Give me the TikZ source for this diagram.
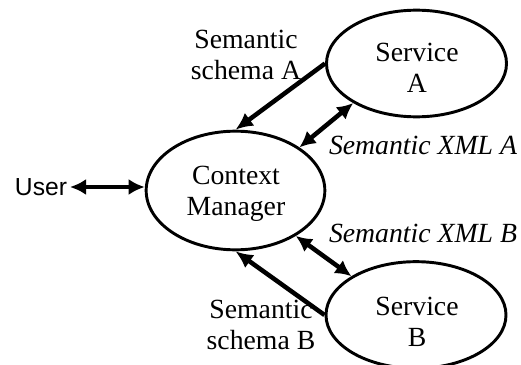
\documentclass[tikz,border=0pt]{standalone}
\usepackage{fontspec}
\setmainfont{Liberation Serif}
\setsansfont{Liberation Sans}
\usetikzlibrary{shapes.geometric, arrows.meta}
\tikzset{
bubble/.style={ellipse, draw, line width=2.2pt, inner sep=0pt}, % the three components
caption/.style={align=center, font=\fontsize{20.8}{23}\selectfont}, % serif labels
flow/.style={-{Latex[length=13pt,width=12pt]}, line width=3.4pt}, % one way transfer
duplex/.style={{Latex[length=12pt,width=12pt]}-{Latex[length=12pt,width=12pt]}, line width=3.4pt}, % exchange both ways
}

\begin{document}
\begin{tikzpicture}[x=0.75pt, y=-0.75pt]
  \useasboundingbox (0,0) rectangle (521,364);

  % Components
  \node[bubble, minimum width=134pt, minimum height=89pt] (cm) at (235.5,190.5) {};
  \node[bubble, minimum width=135pt, minimum height=80pt] (sa) at (416.5,63.5) {};
  \node[bubble, minimum width=135pt, minimum height=80pt] (sb) at (416,315) {};
  \node[caption] at (236,194) {Context\\Manager};
  \node[caption] at (417,68) {Service\\A};
  \node[caption] at (417,322) {Service\\B};
  \node[font=\sffamily\fontsize{18.5}{20}\selectfont, anchor=east, inner sep=2pt] (user) at (70,187) {User};

  % Transfers
  \draw[duplex, line width=2.6pt] (user.east) -- (user.east -| cm.west);
  \draw[flow] (sa.west) -- (cm.north);
  \draw[duplex] (cm.34) -- (sa.212);
  \draw[duplex] (cm.323) -- (sb.149);
  \draw[flow] (sb.west) -- (cm.south);

  % Labels
  \node[caption] at (246,55) {Semantic\\schema A};
  \node[caption, font=\fontsize{20.8}{23}\selectfont\itshape] at (423,145) {Semantic XML A};
  \node[caption, font=\fontsize{20.8}{23}\selectfont\itshape] at (423,233) {Semantic XML B};
  \node[caption] at (261,325) {Semantic\\schema B};
\end{tikzpicture}
\end{document}
